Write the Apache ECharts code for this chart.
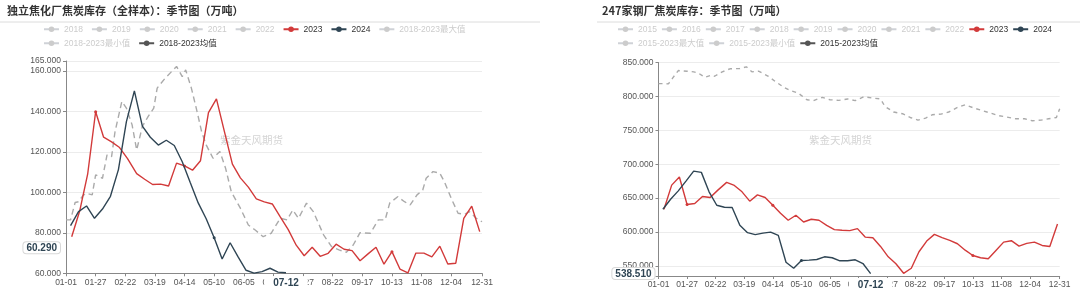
<!DOCTYPE html>
<html>
<head>
<meta charset="utf-8">
<script src="https://cdn.jsdelivr.net/npm/echarts/dist/echarts.min.js"></script>
<style>
html,body{margin:0;padding:0;background:#fff;}
#wrap{width:1080px;height:291px;display:flex;}
.c{width:540px;height:291px;}
</style>
</head>
<body>
<div id="wrap"><div id="c1" class="c"></div><div id="c2" class="c"></div></div>
<script>
// ---------- axis categories (2024 calendar, MM-DD) ----------
function mmdd(d){return String(d.getUTCMonth()+1).padStart(2,'0')+'-'+String(d.getUTCDate()).padStart(2,'0');}
const categories = [];
for (let i = 0; i < 366; i++) categories.push(mmdd(new Date(Date.UTC(2024,0,1+i))));
function fridays(y, m, d, n){ const out=[]; for(let k=0;k<n;k++) out.push(mmdd(new Date(Date.UTC(y,m-1,d+7*k)))); return out; }

// ---------- left chart: 独立焦化厂焦炭库存（全样本） ----------
const leftTitle = '独立焦化厂焦炭库存（全样本）：季节图（万吨）';
const leftLegendRow1 = ['2018','2019','2020','2021','2022','2023','2024','2018-2023最大值'];
const leftLegendRow2 = ['2018-2023最小值','2018-2023均值'];
const leftYTicks = [60,80,100,120,140,160,165];
const left2023 = [78.1,90.8,109.0,139.9,127.3,125.0,122.2,116.7,109.3,106.5,103.9,104.1,103.2,114.5,113.1,111.0,
  115.7,139.5,146.3,130.1,114.0,107.2,102.6,96.8,95.3,94.3,87.9,81.6,73.9,68.7,72.9,68.4,69.9,74.4,71.9,71.2,
  66.2,69.6,72.9,64.5,70.7,62.1,60.2,70.0,70.0,68.1,73.4,64.6,65.0,87.2,93.2,80.6];
const left2024 = [83.6,90.5,93.3,87.2,91.8,98.1,111.3,135.0,150.2,132.8,127.3,123.4,125.8,123.2,115.2,104.9,
  94.8,87.0,77.6,67.1,75.1,68.1,61.5,60.1,60.8,62.5,60.6,60.29];
const leftMeanDay = [0,4,8,11,15,18,23,26,32,36,40,43,49,53,58,62,67,72,77,80,87,93,97,102,105,110,115,119,123,129,
  135,140,145,153,160,166,173,180,188,194,199,204,211,217,226,233,240,246,252,258,267,274,280,284,291,297,302,308,
  313,316,322,328,332,338,344,350,354,360,365];
const leftMeanVal = [86.4,86.4,95,95.4,98.5,99.6,98.8,108.7,107,118.6,117.7,130,145,141.7,133.4,121,132.6,137.5,141.7,
  151.6,156.5,160,162.3,157.3,160.6,151.6,140,130,123.5,116.9,120.2,112,100.4,92.2,83.9,81.4,78.1,79.8,87.2,86.4,
  91.3,87.2,94.7,90.5,79,73.2,71.5,70.4,74,80.1,79.8,86.4,86.4,94.7,97.9,95.4,93.8,98.8,101.2,107,110.3,109.5,105.3,
  97.1,89.7,89.2,90.5,87.2,85.5];

// ---------- right chart: 247家钢厂焦炭库存 ----------
const rightTitle = '247家钢厂焦炭库存：季节图（万吨）';
const rightLegendRow1 = ['2015','2016','2017','2018','2019','2020','2021','2022','2023','2024'];
const rightLegendRow2 = ['2015-2023最大值','2015-2023最小值','2015-2023均值'];
const rightYTicks = [535,550,600,650,700,750,800,850];
const right2023 = [633.5,669.1,681,640.5,642,652.3,650.8,661.7,673.1,668.6,659.2,645.4,654.7,650.8,639.4,627.6,617.2,
  624.6,614.7,618.7,617.2,609.8,603.4,602.4,601.9,604.9,592.4,591.5,578.6,563.3,553,539,546.4,570.8,586.5,596.4,591.5,
  587.5,582.6,573.1,565.3,561.9,560.4,572.7,585,587.1,579.1,583.1,585,580.1,578.6,611.7];
const right2024 = [633.5,648.3,660.6,675,689.8,687.9,659.2,639.4,636.5,636,609.8,598.9,596,598.3,599.8,594.9,555.3,
  546.4,557.9,558.4,559.3,563.3,561.9,557.4,557.4,558.9,553.4,538.51];
const rightMeanDay = [0,4,9,13,18,26,32,36,42,48,51,58,65,74,80,85,91,100,106,114,120,127,135,141,149,156,164,172,179,
  187,194,202,206,214,222,229,236,243,249,257,264,272,279,287,295,302,310,317,325,333,340,348,355,362,365];
const rightMeanVal = [818.9,818.9,818.4,827.3,838.1,837.1,836.2,834.7,828.2,831.2,829.7,836.2,840.7,841.1,843.6,836.2,
  837.1,829.7,822.3,813.4,808.5,805.1,795.1,793.7,798.6,795.1,794.1,796.2,793.7,799.6,797.7,796.2,785.2,776.9,774.4,
  768.9,765,768,772.9,773.9,776.9,783.7,787.7,782.8,778.8,775.4,771.4,769.5,767,767,764,765,767,768.9,781.8];

const dates2023 = fridays(2023,1,6,52);
const dates2024 = fridays(2024,1,5,28);

const RED = '#d23a3a', NAVY = '#2f4554', MEAN = '#aaaaaa', MEANICON = '#555555';
const FONT = "'Liberation Sans','Noto Sans CJK SC',sans-serif";

function pairs(dates, vals){ return vals.map((v,i)=>[dates[i], v]); }
function dayPairs(days, vals){ return vals.map((v,i)=>[categories[days[i]], v]); }

function build(cfg){
  const hidden = {};
  const series = [];
  cfg.allNames.forEach(n=>{
    if (n === '2023') {
      series.push({name:n,type:'line',data:pairs(dates2023,cfg.d2023),symbol:'circle',symbolSize:3,
        itemStyle:{color:RED},lineStyle:{color:RED,width:1.4},z:3});
    } else if (n === '2024') {
      series.push({name:n,type:'line',data:pairs(dates2024,cfg.d2024),symbol:'circle',symbolSize:3,
        itemStyle:{color:NAVY},lineStyle:{color:NAVY,width:1.4},z:4});
    } else if (n === cfg.meanName) {
      series.push({name:n,type:'line',data:dayPairs(cfg.meanDay,cfg.meanVal),symbol:'circle',showSymbol:false,
        itemStyle:{color:MEANICON},lineStyle:{color:MEAN,width:1.4,type:cfg.dash},z:2});
    } else {
      hidden[n] = false;
      series.push({name:n,type:'line',data:[],symbol:'circle',itemStyle:{color:'#ccc'}});
    }
  });
  const legendItem = n => (n === cfg.meanName ? {name:n, itemStyle:{color:MEANICON}, lineStyle:{color:MEANICON,type:'solid'}} : n);
  const legendBase = {itemWidth:15,itemHeight:7,itemGap:cfg.legendGap,padding:0,
    textStyle:{fontSize:8.5,color:'#333',fontFamily:FONT},inactiveColor:'#ccc',selected:hidden};
  const last2024 = cfg.d2024[cfg.d2024.length-1];
  const labelFn = (idx) => (idx % 26 === 0 && idx !== 364) || idx === 365;
  return {
    animation:false,
    textStyle:{fontFamily:FONT},
    title:{text:cfg.title,left:cfg.titleLeft,top:5,padding:0,
      textStyle:{fontSize:11,fontWeight:'bold',color:'#333',fontFamily:"'Noto Sans CJK SC',sans-serif"}},
    legend:[
      Object.assign({left:cfg.legendLeft,top:25,data:cfg.row1.map(legendItem)}, legendBase),
      Object.assign({left:cfg.legendLeft,top:39,data:cfg.row2.map(legendItem)}, legendBase)
    ],
    graphic:[
      {type:'line',shape:{x1:cfg.sepX1,y1:22,x2:540,y2:22},style:{stroke:'#dcdcdc',lineWidth:1},silent:true},
      {type:'text',left:cfg.wmLeft,top:135,silent:true,style:{text:'紫金天风期货',fill:'#d4d4d4',fontSize:10.5,fontFamily:"'Noto Sans CJK SC',sans-serif"}}
    ],
    grid:Object.assign({containLabel:false,outerBoundsMode:'none'}, cfg.grid),
    xAxis:{type:'category',data:categories,boundaryGap:false,
      axisLine:{lineStyle:{color:'#888'}},
      axisTick:{interval:labelFn,length:3,lineStyle:{color:'#888'}},
      axisLabel:{interval:labelFn,fontSize:8.5,color:'#555',margin:cfg.xMargin,showMaxLabel:true,hideOverlap:false},
      splitLine:{show:false},
      axisPointer:{show:true,status:'show',value:dates2024[dates2024.length-1],triggerTooltip:false,
        lineStyle:{opacity:0},
        label:{show:true,fontWeight:'bold',fontSize:10,color:NAVY,backgroundColor:'#fff',padding:[2,9,1,9],margin:3}}
    },
    yAxis:{type:'value',min:cfg.yTicks[0],max:cfg.yTicks[cfg.yTicks.length-1],
      axisLine:{show:true,lineStyle:{color:'#888'}},
      axisTick:{show:true,length:3,lineStyle:{color:'#888'},customValues:cfg.yTicks},
      axisLabel:{fontSize:8.5,color:'#555',margin:5,customValues:cfg.yTicks,formatter:v=>Number(v).toFixed(3)},
      splitLine:{lineStyle:{color:'#ececec'}},
      axisPointer:{show:true,status:'show',value:cfg.pointerY,triggerTooltip:false,
        lineStyle:{opacity:0},
        label:{show:true,formatter:()=>last2024.toFixed(3),fontWeight:'bold',fontSize:10,color:NAVY,
          backgroundColor:'#fff',borderColor:'#d8d8d8',borderWidth:1,padding:[1,3,0,3],margin:cfg.pointerMargin}}
    },
    series:series
  };
}

const leftOpt = build({
  title:leftTitle,titleLeft:7,row1:leftLegendRow1,row2:leftLegendRow2,
  allNames:leftLegendRow1.concat(leftLegendRow2),meanName:'2018-2023均值',
  d2023:left2023,d2024:left2024,meanDay:leftMeanDay,meanVal:leftMeanVal,dash:[6,4],
  legendLeft:43,legendGap:8,sepX1:0,wmLeft:220,
  grid:{left:66,right:58,top:61,bottom:17.7},xMargin:5,
  yTicks:leftYTicks,pointerY:72.6,pointerMargin:6
});
const rightOpt = build({
  title:rightTitle,titleLeft:62,row1:rightLegendRow1,row2:rightLegendRow2,
  allNames:rightLegendRow1.concat(rightLegendRow2),meanName:'2015-2023均值',
  d2023:right2023,d2024:right2024,meanDay:rightMeanDay,meanVal:rightMeanVal,dash:[4,4],
  legendLeft:77,legendGap:4,sepX1:57,wmLeft:269,
  grid:{left:118.5,right:20.3,top:62.5,bottom:15},xMargin:4,
  yTicks:rightYTicks,pointerY:538.51,pointerMargin:4
});

echarts.init(document.getElementById('c1'),null,{renderer:'canvas'}).setOption(leftOpt);
echarts.init(document.getElementById('c2'),null,{renderer:'canvas'}).setOption(rightOpt);
</script>
</body>
</html>
